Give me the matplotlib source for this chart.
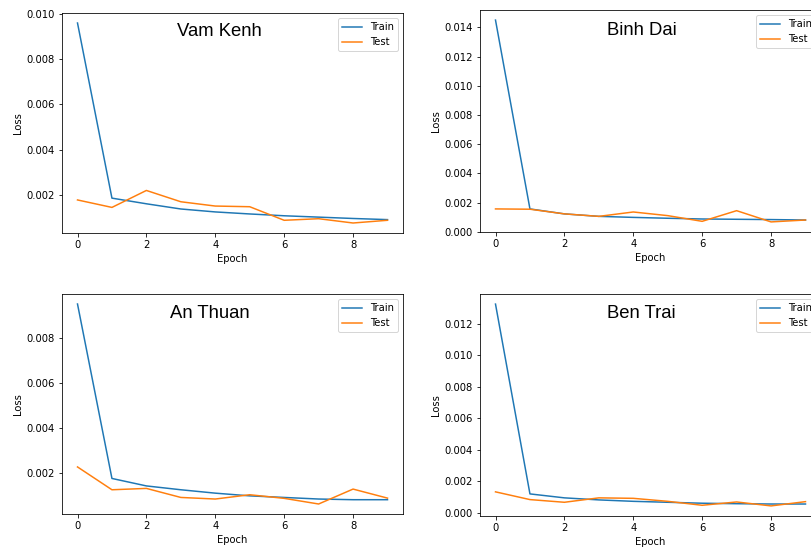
import numpy as np
import matplotlib
matplotlib.use("Agg")
import matplotlib.pyplot as plt

epochs = np.arange(10)

vam_kenh_train = [0.0096, 0.00185, 0.0016, 0.00137, 0.00124, 0.00115, 0.00107, 0.00101, 0.00095, 0.0009]
vam_kenh_test = [0.00177, 0.00144, 0.00219, 0.00169, 0.0015, 0.00147, 0.00087, 0.00094, 0.00075, 0.00087]

binh_dai_train = [0.0145, 0.00156, 0.00122, 0.00105, 0.00098, 0.00092, 0.00087, 0.00085, 0.00083, 0.0008]
binh_dai_test = [0.00156, 0.00154, 0.00122, 0.00105, 0.00135, 0.0011, 0.00071, 0.00144, 0.00067, 0.0008]

an_thuan_train = [0.0095, 0.00178, 0.00145, 0.00128, 0.00113, 0.00101, 0.00094, 0.00087, 0.00084, 0.00084]
an_thuan_test = [0.00229, 0.00128, 0.00134, 0.00094, 0.00087, 0.00106, 0.0009, 0.00065, 0.00131, 0.00091]

ben_trai_train = [0.01323, 0.00121, 0.00096, 0.00083, 0.00074, 0.00068, 0.00062, 0.00059, 0.00057, 0.00057]
ben_trai_test = [0.00134, 0.00085, 0.00068, 0.00096, 0.00093, 0.00074, 0.00049, 0.0007, 0.00045, 0.00072]

stations = ["Vam Kenh", "Binh Dai", "An Thuan", "Ben Trai"]
trains = [vam_kenh_train, binh_dai_train, an_thuan_train, ben_trai_train]
tests = [vam_kenh_test, binh_dai_test, an_thuan_test, ben_trai_test]

W, H = 811, 551
fig = plt.figure(figsize=(W / 72, H / 72), dpi=72)

# axes boxes in pixels: left, top, width, height (right column runs off the edge)
boxes = [(62, 13, 341, 220), (480, 10, 341, 222), (62, 294, 341, 220), (480, 294, 341, 222)]
# title anchors in pixels: left x, baseline y
title_pos = [(177, 36), (607, 35), (170, 318), (607, 318)]

for name, tr, te, (l, t, w, h), (tx, ty) in zip(stations, trains, tests, boxes, title_pos):
    ax = fig.add_axes([l / W, 1 - (t + h) / H, w / W, h / H])
    ax.plot(epochs, tr, label="Train")
    ax.plot(epochs, te, label="Test")
    ax.set_xlabel("Epoch")
    ax.set_ylabel("Loss")
    ax.legend(loc="upper right")
    fig.text(tx / W, 1 - ty / H, name, fontsize=18.5, family="Liberation Sans",
             ha="left", va="baseline")

fig.savefig("out.png", dpi=72)
